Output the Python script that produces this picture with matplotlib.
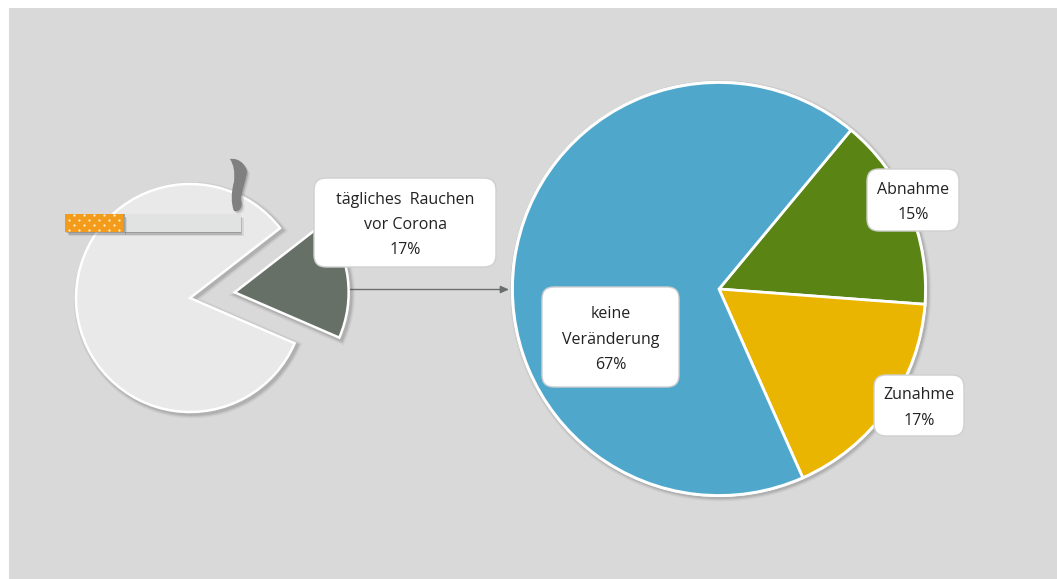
import matplotlib
matplotlib.use('Agg')
import matplotlib.pyplot as plt
import matplotlib.patheffects as pe
from matplotlib.patches import FancyBboxPatch, PathPatch, Rectangle
from matplotlib.path import Path

W, H = 1057, 579

smoking_values = [17, 83]
smoking_colors = ['#667067', '#e9e9e9']

change_labels = ['Abnahme', 'Zunahme', 'keine\nVeränderung']
change_values = [15, 17, 67]
change_colors = ['#5a8413', '#e9b500', '#4fa8cc']

smoking_label = 'tägliches  Rauchen\nvor Corona\n17%'

plt.rcParams['font.family'] = ['Open Sans', 'DejaVu Sans']


def py(y):
    # picture pixels count from the top, the axes from the bottom
    return H - y


def line_shadow(dist=1.5):
    return [
        pe.SimpleLineShadow(offset=(dist, -dist), shadow_color='#444444', alpha=0.07, linewidth=6),
        pe.SimpleLineShadow(offset=(dist, -dist), shadow_color='#444444', alpha=0.10, linewidth=4),
        pe.SimpleLineShadow(offset=(dist, -dist), shadow_color='#444444', alpha=0.12, linewidth=2.5),
        pe.Normal(),
    ]


def patch_shadow(dx, dy):
    return [
        pe.SimplePatchShadow(offset=(dx + 1, -dy - 1), shadow_rgbFace='#555555', alpha=0.12),
        pe.SimplePatchShadow(offset=(dx, -dy), shadow_rgbFace='#555555', alpha=0.25),
        pe.SimplePatchShadow(offset=(dx - 1, -dy + 1), shadow_rgbFace='#555555', alpha=0.25),
        pe.Normal(),
    ]


def label_box(x0, y0, x1, y1, text, size=11.5):
    box = FancyBboxPatch((x0, py(y1)), x1 - x0, y1 - y0,
                         boxstyle='round,pad=0,rounding_size=12',
                         fc='white', ec='#cfcfcf', lw=1, zorder=6)
    ax.add_patch(box)
    # text sits a little below the box middle in the reference
    ax.text((x0 + x1) / 2, py((y0 + y1) / 2 + 2.5), text, ha='center', va='center',
            fontsize=size, color='#222222', linespacing=1.76, zorder=7)


fig = plt.figure(figsize=(W / 100, H / 100), dpi=100, facecolor='white')
ax = fig.add_axes([0, 0, 1, 1])

ax.add_patch(Rectangle((9, 0), W - 9, H - 8, fc='#d9d9d9', ec='none', zorder=0))

# left pie, explode is in data units here because of the pixel sized radius
small, _ = ax.pie(smoking_values, colors=smoking_colors, center=(190, py(298)), radius=114,
                  startangle=-23.4, explode=[45, 0], frame=True,
                  wedgeprops=dict(edgecolor='white', linewidth=1.8))
for w in small:
    w.set_zorder(2)
    w.set_path_effects(line_shadow())

# right pie
big, _ = ax.pie(change_values, colors=change_colors, center=(719, py(289)), radius=206.5,
                startangle=50.3, counterclock=False, frame=True,
                wedgeprops=dict(edgecolor='white', linewidth=2))
big_outline = plt.Circle((719, py(289)), 206.5, fc='none', ec='white', lw=2.2, zorder=3)
big_outline.set_path_effects(line_shadow(1.2))
ax.add_patch(big_outline)
for w in big:
    w.set_zorder(4)

# arrow between the pies
ax.annotate('', xy=(509, py(289.5)), xytext=(349, py(289.5)), zorder=1,
            arrowprops=dict(arrowstyle='-|>,head_width=0.22,head_length=0.5', color='#6b6f6b',
                            lw=1, shrinkA=0, shrinkB=0))

# cigarette
smoke_pts = [(230, 159), (238, 158), (245, 163), (247, 172), (245, 183), (241, 193),
             (241, 200), (243, 207), (240, 212), (234, 211), (231, 203), (231, 193),
             (234, 182), (235, 172), (234, 165), (230, 159)]
smoke_codes = [Path.MOVETO] + [Path.CURVE4] * 15
smoke = PathPatch(Path([(x, py(y)) for x, y in smoke_pts], smoke_codes), fc='#808080', ec='none', zorder=5)
smoke.set_path_effects(patch_shadow(1, 1))
ax.add_patch(smoke)

body = Rectangle((124, py(232)), 117, 18, fc='#e1e3e2', ec='none', zorder=5)
body.set_path_effects(patch_shadow(1, 2))
ax.add_patch(body)
tip = Rectangle((65, py(232)), 58, 18, fc='#f39c1c', ec='none', zorder=5)
tip.set_path_effects(patch_shadow(2, 2))
ax.add_patch(tip)
ax.add_patch(Rectangle((123, py(232)), 2, 18, fc='#9aa3a0', ec='none', zorder=5))

dot_x = [69, 79, 89, 99, 109, 119, 74, 84, 94, 104, 114]
dot_row_a = [220, 230]
dot_row_b = [215, 225]
ax.scatter(dot_x[:6] * 2, [py(y) for y in dot_row_a for _ in range(6)], s=2.5, c='#fff3d6', lw=0, zorder=6)
ax.scatter(dot_x[6:] * 2, [py(y) for y in dot_row_b for _ in range(5)], s=2.5, c='#fff3d6', lw=0, zorder=6)

# labels
label_box(314, 178, 496, 267, smoking_label)
label_box(542, 287, 679, 387, f'{change_labels[2]}\n{change_values[2]}%')
label_box(867, 169, 959, 231, f'{change_labels[0]}\n{change_values[0]}%')
label_box(874, 375, 964, 436, f'{change_labels[1]}\n{change_values[1]}%')

ax.set_xlim(0, W)
ax.set_ylim(0, H)
ax.set_aspect('auto')
ax.axis('off')

fig.savefig('out.png', dpi=100, facecolor='white')
